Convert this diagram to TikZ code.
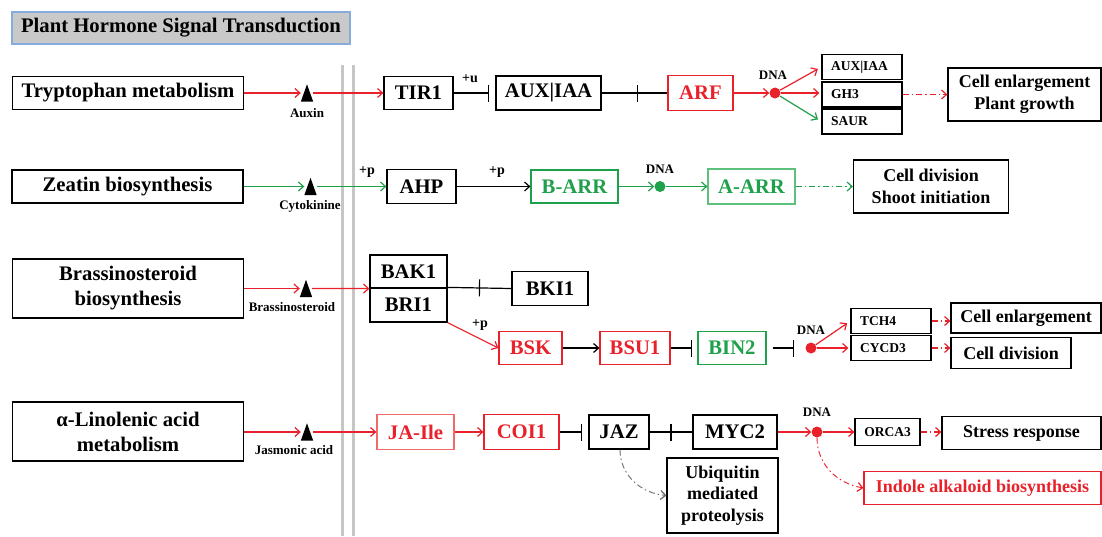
\documentclass[tikz,border=0pt]{standalone}
\usepackage{fontspec}
\setmainfont{Liberation Serif}
\usetikzlibrary{arrows.meta,decorations.markings}
\definecolor{hred}{HTML}{E8212B}
\definecolor{hgreen}{HTML}{1FA04A}
\definecolor{lred}{HTML}{F06A6A}
\definecolor{lgreen}{HTML}{5DC07C}
\definecolor{vgray}{HTML}{C6C6C6}
\definecolor{tfill}{HTML}{C9C9C9}
\definecolor{tborder}{HTML}{86ACDB}
\definecolor{dgray}{HTML}{6E6E6E}
\begin{document}
\begin{tikzpicture}[x=1pt,y=-1pt,
  box/.style={draw, line width=1.2pt, inner sep=0pt, align=center},
  big/.style={font=\fontsize{20.7}{25}\selectfont\bfseries},
  mid/.style={font=\fontsize{18}{22}\selectfont\bfseries},
  small/.style={font=\fontsize{13.5}{15}\selectfont\bfseries},
  lab/.style={font=\fontsize{13}{15}\selectfont\bfseries, inner sep=0pt},
  plab/.style={font=\fontsize{14}{15}\selectfont\bfseries, inner sep=0pt},
  sbox/.style={box, small, align=left, text width=62pt, inner xsep=9pt, minimum height=25pt},
  tri/.style={inner sep=0pt, minimum width=12pt, minimum height=17pt},
  dnadot/.style={circle, inner sep=0pt, minimum size=11pt, fill=#1},
  arr/.style={line width=1.2pt, -{Straight Barb[length=5pt,width=9pt,line width=1.2pt]}},
  inh/.style={line width=1.2pt, -{Bar[width=17pt,line width=1.2pt]}},
  midbar/.style={postaction={decorate}, decoration={markings, mark=at position #1 with {\draw[line width=1.2pt] (0,-8.5pt) -- (0,8.5pt);}}},
  midbar/.default=0.5,
  ddot/.style={dash pattern=on 6pt off 3pt on 1.5pt off 3pt},
]
\useasboundingbox (0,0) rectangle (1102,536);
\fill[white] (0,0) rectangle (1102,536);

% title
\node[box, big, fill=tfill, draw=tborder, minimum width=338pt, minimum height=32pt] (title) at (181,28) {Plant Hormone Signal Transduction};

% membrane lines
\draw[vgray, line width=3pt] (342,65) -- (342,536);
\draw[vgray, line width=3pt] (353,65) -- (353,536);

% ---------- Row 1 ----------
\node[box, big, minimum width=231pt, minimum height=33pt] (trp) at (128,93) {Tryptophan metabolism};
\node[tri] (tA) at (307,93) {};
\fill (tA.south west) -- (tA.south east) -- (tA.north) -- cycle;
\node[lab] (auxin) at (307,113) {Auxin};
\node[box, big, minimum width=69pt, minimum height=33pt] (tir) at (418.5,93) {TIR1};
\node[plab] (pu) at (470,79) {+u};
\node[box, big, minimum width=105pt, minimum height=34pt] (aux) at (548.5,93) {AUX|IAA};
\node[box, big, draw=hred, text=hred, minimum width=65pt, minimum height=35pt] (arf) at (700.5,93) {ARF};
\node[dnadot=hred] (dot1) at (775,93) {};
\node[lab] (dna1) at (773,75) {DNA};
\node[sbox] (aux2) at (862,67) {AUX|IAA};
\node[sbox] (gh3) at (862,94.5) {GH3};
\node[sbox] (saur) at (862,121.5) {SAUR};
\node[box, mid, minimum width=153pt, minimum height=53pt] (cell1) at (1024.5,94.5) {Cell enlargement\\Plant growth};

\draw[arr, hred] (trp) -- (tA);
\draw[arr, hred] (tA) -- (tir);
\draw[inh, shorten >=6pt] (tir) -- (aux);
\draw[line width=1.2pt, midbar=0.54] (aux) -- (arf);
\draw[arr, hred] (arf) -- (dot1);
\draw[arr, hred, shorten >=4pt] (dot1) -- (aux2.west);
\draw[arr, hred, shorten >=2pt] (dot1) -- (dot1 -| gh3.west);
\draw[arr, hgreen, shorten >=4pt] (dot1) -- (saur.west);
\draw[arr, hred, ddot] (gh3) -- (cell1);

% ---------- Row 2 ----------
\node[box, big, minimum width=231pt, minimum height=33pt] (zea) at (127.5,186.5) {Zeatin biosynthesis};
\node[tri] (tC) at (310.5,186.5) {};
\fill (tC.south west) -- (tC.south east) -- (tC.north) -- cycle;
\node[lab] (cyto) at (310,206) {Cytokinine};
\node[plab] (pp1) at (367,172) {+p};
\node[box, big, minimum width=69pt, minimum height=34pt] (ahp) at (421.5,186.5) {AHP};
\node[plab] (pp2) at (497,172) {+p};
\node[box, big, draw=hgreen, text=hgreen, minimum width=87pt, minimum height=33pt] (barr) at (574.5,186.5) {B-ARR};
\node[dnadot=hgreen] (dot2) at (660,186.5) {};
\node[lab] (dna2) at (660,169) {DNA};
\node[box, big, draw=lgreen, text=hgreen, minimum width=87pt, minimum height=35pt] (aarr) at (751.5,186.5) {A-ARR};
\node[box, mid, minimum width=155pt, minimum height=53pt] (cell2) at (931,186.5) {Cell division\\Shoot initiation};

\draw[arr, hgreen] (zea) -- (tC);
\draw[arr, hgreen] (tC) -- (ahp);
\draw[arr] (ahp) -- (barr);
\draw[arr, hgreen] (barr) -- (dot2);
\draw[arr, hgreen] (dot2) -- (aarr);
\draw[arr, hgreen, ddot] (aarr) -- (cell2);

% ---------- Row 3 ----------
\node[box, big, minimum width=231pt, minimum height=59pt] (bra) at (128,288.5) {Brassinosteroid\\biosynthesis};
\node[tri] (tB) at (306,288.5) {};
\fill (tB.south west) -- (tB.south east) -- (tB.north) -- cycle;
\node[lab] (brl) at (292,307) {Brassinosteroid};
\node[box, big, minimum width=77pt, minimum height=33pt] (bak) at (408.5,271.5) {BAK1};
\node[box, big, minimum width=77pt, minimum height=34pt] (bri) at (408.5,305) {BRI1};
\node[box, big, minimum width=76pt, minimum height=34pt] (bki) at (550,288.5) {BKI1};
\node[plab] (pp3) at (480,325) {+p};
\node[box, big, draw=hred, text=hred, minimum width=63pt, minimum height=33pt] (bsk) at (530.5,348) {BSK};
\node[box, big, draw=hred, text=hred, minimum width=70pt, minimum height=33pt] (bsu) at (635,348) {BSU1};
\node[box, big, draw=hgreen, text=hgreen, minimum width=68pt, minimum height=33pt] (bin) at (732,348) {BIN2};
\node[dnadot=hred] (dot3) at (811,348) {};
\node[lab] (dna3) at (811,330) {DNA};
\node[sbox] (tch) at (891,321) {TCH4};
\node[sbox] (cyc) at (891,348) {CYCD3};
\node[box, mid, minimum width=150pt, minimum height=30pt] (ce3) at (1026,318) {Cell enlargement};
\node[box, mid, minimum width=120pt, minimum height=31pt] (cd3) at (1011,353) {Cell division};

\draw[arr, hred] (bra) -- (tB);
\draw[arr, hred] (tB.east) -- (bak.south west);
\draw[line width=1.2pt, midbar=0.5] (bri.north east) -- (bki.west);
\draw[arr, hred] (bri.south east) -- (bsk.west);
\draw[arr] (bsk) -- (bsu);
\draw[inh, shorten >=5pt] (bsu) -- (bin);
\draw[inh, shorten <=6pt, shorten >=11pt] (bin) -- (dot3);
\draw[arr, hred, shorten >=4pt] (dot3) -- (tch.west);
\draw[arr, hred, shorten >=2pt] (dot3) -- (cyc);
\draw[arr, hred, ddot] (tch.east) -- (tch.east -| ce3.west);
\draw[arr, hred, ddot] (cyc.east) -- (cyc.east -| cd3.west);

% ---------- Row 4 ----------
\node[box, big, minimum width=231pt, minimum height=59pt] (lin) at (128,431.5) {α-Linolenic acid\\metabolism};
\node[tri] (tJ) at (307,432) {};
\fill (tJ.south west) -- (tJ.south east) -- (tJ.north) -- cycle;
\node[lab] (jas) at (294,450) {Jasmonic acid};
\node[box, big, draw=lred, text=hred, minimum width=77pt, minimum height=35pt] (jai) at (415.5,432) {JA-Ile};
\node[box, big, draw=hred, text=hred, minimum width=75pt, minimum height=35pt] (coi) at (521.5,432) {COI1};
\node[box, big, minimum width=60pt, minimum height=34pt] (jaz) at (619,432) {JAZ};
\node[box, big, minimum width=84pt, minimum height=34pt] (myc) at (735,432) {MYC2};
\node[dnadot=hred] (dot4) at (817,432) {};
\node[lab] (dna4) at (817,412) {DNA};
\node[box, small, minimum width=65pt, minimum height=27pt] (orca) at (887.5,432) {ORCA3};
\node[box, mid, minimum width=159pt, minimum height=33pt] (stress) at (1021.5,433) {Stress response};
\node[box, mid, font=\fontsize{18}{21.5}\selectfont\bfseries, minimum width=111pt, minimum height=75pt] (ubi) at (722.5,495.5) {Ubiquitin\\mediated\\proteolysis};
\node[box, mid, draw=hred, text=hred, minimum width=237pt, minimum height=33pt] (ind) at (982.5,488) {Indole alkaloid biosynthesis};

\draw[arr, hred] (lin.east |- tJ) -- (tJ);
\draw[arr, hred] (tJ) -- (jai);
\draw[arr, hred] (jai) -- (coi);
\draw[inh, shorten >=6pt] (coi) -- (jaz);
\draw[line width=1.2pt, midbar=0.5] (jaz) -- (myc);
\draw[arr, hred] (myc) -- (dot4);
\draw[arr, hred] (dot4) -- (orca);
\draw[arr, hred, ddot] (orca) -- (orca -| stress.west);
\draw[arr, hred, ddot, line width=0.9pt] (dot4.south) to[out=-90, in=170] (ind.west);
\draw[arr, dgray, ddot, line width=0.9pt] ([xshift=1pt]jaz.south) to[out=-90, in=175] (ubi.west);
\end{tikzpicture}
\end{document}
